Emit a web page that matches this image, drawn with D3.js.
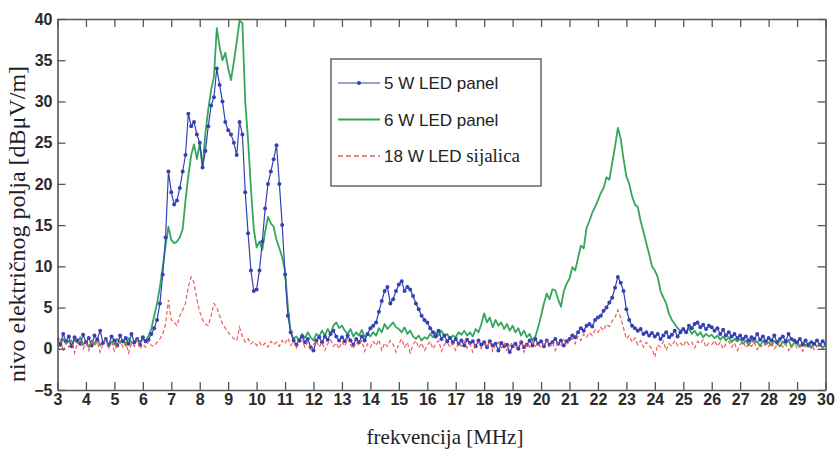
<!DOCTYPE html>
<html>
<head>
<meta charset="utf-8">
<script src="https://cdn.jsdelivr.net/npm/d3@7"></script>
<style>
body { margin: 0; background: #fff; }
svg { display: block; }
</style>
</head>
<body>
<div id="chart"></div>
<script>
// frequency grid 3..30 MHz, 0.1 MHz step
var freq = d3.range(0, 271).map(function(i) { return +(3 + i * 0.1).toFixed(1); });

var led5 = [
	1.2, 0.5, 1.8, 0.9, 1.5, 0.3, 1.4, 1.0, 0.6, 1.7,
	0.8, 1.3, 0.4, 1.6, 1.1, 2.2, 0.7, 1.2, 0.5, 1.5,
	1.0, 0.4, 1.6, 0.9, 1.3, 0.6, 1.8, 0.8, 1.2, 0.5,
	1.4, 0.9, 1.1, 1.8, 2.5, 3.5, 5.5, 9.0, 13.5, 21.5,
	19.0, 17.5, 18.0, 19.5, 21.5, 23.5, 28.5, 27.0, 27.5, 26.0,
	25.0, 22.0, 24.0, 27.0, 29.5, 30.5, 34.0, 32.0, 30.0, 27.5,
	26.5, 26.0, 25.0, 23.5, 27.5, 26.0, 19.0, 14.0, 9.5, 7.0,
	7.2, 9.5, 13.0, 17.0, 20.0, 21.5, 23.0, 24.7, 20.0, 15.0,
	9.0, 4.0, 2.0, 1.0, 0.5, 1.0, 1.5, 0.8, 1.2, 0.2,
	-0.2, 1.0, 1.4, 0.8, 1.5, 1.1, 1.8, 2.2, 1.5, 1.0,
	1.4, 0.9, 1.6, 1.0, 0.5, 1.2, 0.8, 1.5, 1.0, 1.8,
	2.5, 2.8, 3.2, 4.5, 5.8, 7.0, 7.5, 5.5, 6.0, 7.0,
	7.8, 8.2, 7.0, 7.5, 7.2, 6.4, 5.5, 4.8, 4.0, 3.5,
	3.2, 2.5, 2.0, 1.5, 2.2, 1.2, 1.6, 0.9, 1.3, 0.8,
	1.2, 0.6, 1.0, 0.4, 1.1, 0.7, 0.9, 0.3, 1.0, 0.5,
	0.8, 0.2, 0.9, 0.4, 0.6, -0.2, 0.7, 0.3, 0.5, -0.4,
	0.3, 0.6, 0.0, 0.8, 0.2, 0.5, 1.0, 0.4, 1.2, 0.6,
	0.9, 0.3, 1.0, 0.5, 0.8, 1.2, 0.6, 1.0, 0.4, 0.9,
	1.2, 1.6, 1.4, 2.0, 2.5, 2.2, 2.8, 3.0, 2.7, 3.5,
	3.8, 4.0, 4.6, 5.0, 5.6, 6.2, 7.4, 8.7, 8.0, 7.0,
	4.8, 3.5, 2.8, 2.5, 2.2, 2.4, 1.8, 2.0, 1.6, 1.9,
	1.5, 1.8, 1.2, 1.6, 2.0, 1.4, 1.7, 2.2, 1.5, 2.0,
	2.4, 2.0, 2.8, 2.5, 3.0, 3.2, 2.6, 2.9, 2.4, 2.8,
	2.6, 2.2, 2.5, 1.8, 2.3, 1.6, 2.0, 1.5, 1.8, 1.3,
	1.6, 1.2, 1.5, 1.0, 1.4, 1.2, 1.8, 1.1, 1.5, 0.9,
	1.3, 1.0, 1.6, 0.8, 1.2, 1.5, 0.9, 1.8, 1.2, 1.0,
	0.8, 1.2, 0.5, 1.0, 0.4, 0.8, 0.6, 1.0, 0.5, 0.9,
	0.6
];

var led6 = [
	0.8, 0.4, 1.2, 0.6, 1.0, 0.3, 1.1, 0.7, 1.4, 0.5,
	0.9, 0.2, 1.0, 0.6, 1.3, 0.4, 0.8, 1.1, 0.3, 0.9,
	0.5, 1.2, 0.7, 1.0, 0.4, 1.3, 0.8, 0.6, 1.1, 0.9,
	1.2, 0.9, 1.6, 2.4, 4.0, 5.5, 7.5, 9.9, 12.5, 14.8,
	13.2, 12.8, 13.0, 13.5, 14.5, 18.0, 21.0, 23.5, 24.8, 23.0,
	24.9, 22.0, 26.2, 29.0, 31.4, 33.0, 38.9, 36.6, 35.0, 35.9,
	34.0, 32.6, 34.8, 37.2, 39.8, 39.5, 30.0, 25.3, 19.5, 14.5,
	12.3, 13.0, 12.0, 14.2, 16.0, 15.2, 14.8, 13.2, 12.2, 11.1,
	9.5, 5.0, 2.0, 1.2, 1.5, 1.0, 1.8, 1.3, 2.0, 1.4,
	1.0, 1.8, 1.5, 2.2, 1.6, 2.4, 1.8, 2.8, 3.2, 2.5,
	2.8, 2.2, 1.8, 2.4, 1.5, 2.0, 1.6, 2.3, 1.4, 1.8,
	1.5, 2.0, 1.6, 2.5, 2.0, 3.0, 2.4, 2.8, 3.2, 2.6,
	2.4, 2.0, 2.6, 1.8, 2.2, 1.5, 1.2, 1.6, 1.0, 1.4,
	1.2, 1.8, 1.4, 2.0, 1.6, 2.2, 1.5, 1.8, 1.2, 1.6,
	1.4, 2.0, 1.7, 2.2, 1.6, 2.0, 1.5, 2.4, 2.0, 3.0,
	4.3, 3.2, 3.8, 2.6, 3.5, 2.8, 3.2, 2.4, 3.0, 2.2,
	2.8, 2.0, 2.5, 1.6, 2.2, 1.4, 1.8, 1.0, 1.5, 2.6,
	4.0, 5.5, 6.7, 6.0, 7.2, 7.1, 6.0, 5.1, 7.0, 7.9,
	8.5, 9.9, 9.5, 11.0, 12.5, 12.2, 14.7, 15.5, 16.5, 17.2,
	18.0, 18.9, 19.5, 20.8, 20.5, 22.5, 24.5, 26.8, 25.5, 23.0,
	20.9, 20.0, 18.5, 17.5, 17.2, 15.5, 14.2, 12.8, 11.5, 10.0,
	9.5, 8.7, 7.0, 6.2, 5.5, 4.2, 3.5, 3.0, 2.5, 2.2,
	2.3, 2.0, 2.5, 1.8, 2.2, 1.6, 2.0, 1.4, 1.8, 1.5,
	1.7, 1.3, 1.6, 1.1, 1.5, 1.0, 1.4, 0.8, 1.2, 0.9,
	1.2, 0.6, 1.0, 0.4, 1.1, 0.7, 0.9, 0.3, 1.0, 0.5,
	0.8, 0.4, 1.0, 0.6, 0.3, 0.9, 0.5, 1.1, 0.2, 0.7,
	0.6, 0.2, 0.8, 0.4, 0.7, 0.1, 0.6, 0.3, 0.5, 0.2,
	0.4
];

var led18 = [
	0.5, 1.2, -0.3, 0.8, 0.2, 1.0, -0.5, 0.6, 1.1, 0.0,
	0.7, -0.2, 1.0, 0.3, 0.9, -0.4, 0.6, 1.2, 0.1, 0.8,
	-0.3, 0.5, 1.0, 0.2, 0.8, -0.5, 0.7, 0.3, 1.1, 0.0,
	0.6, 0.2, 0.9, 0.4, 0.3, 0.8, 1.2, 1.8, 3.0, 5.9,
	3.5, 3.2, 2.8, 4.0, 4.7, 5.5, 7.5, 8.7, 8.0, 6.0,
	4.5, 3.5, 3.0, 2.8, 4.0, 5.5, 5.0, 4.0, 3.0, 2.5,
	2.0, 1.6, 1.2, 1.0, 2.6, 1.5, 0.8, 1.2, 0.6, 0.9,
	0.4, 0.8, 0.3, 0.7, 0.2, 0.9, 0.5, 0.8, 0.3, 1.0,
	0.6, 1.3, 0.4, 0.9, 0.1, 0.7, 1.0, 0.2, 0.8, -0.3,
	0.5, 1.0, 0.2, 0.8, -0.2, 0.6, 1.1, 0.3, 0.7, 0.0,
	0.9, 0.3, 1.2, 0.5, 0.0, 0.8, 0.4, 1.0, -0.3, 0.6,
	0.2, 0.9, 0.4, 1.1, -0.2, 0.7, 0.3, 1.0, 0.5, -0.4,
	0.6, 1.2, 0.2, 0.8, -0.5, 0.5, 1.0, 0.1, 0.7, -0.2,
	0.4, 0.9, 0.0, 0.6, 1.0, -0.3, 0.5, 0.8, 0.2, 0.6,
	-0.2, 0.7, 0.3, 0.9, 0.1, 0.6, -0.4, 0.5, 0.8, 0.0,
	0.6, 0.2, 0.9, -0.3, 0.5, 0.8, 0.1, 0.7, -0.2, 0.4,
	0.8, 0.0, 0.5, 1.0, -0.4, 0.6, 0.2, 0.9, 0.3, 0.7,
	0.1, 0.6, 1.0, 0.3, 0.8, -0.2, 0.7, 0.4, 1.1, 0.5,
	0.9, 1.3, 0.6, 1.5, 1.0, 1.8, 1.4, 2.0, 1.6, 2.3,
	2.0, 2.6, 2.2, 3.0, 2.7, 3.4, 3.8, 4.7, 3.8, 2.5,
	1.2, 1.6, 0.8, 1.3, 0.5, 1.0, 0.2, 0.8, 0.4, 0.0,
	-1.0, 0.5, 0.2, 0.9, -0.2, 0.6, 0.3, 1.0, 0.4, 0.7,
	0.3, 1.0, 0.5, 0.8, 0.1, 0.9, 0.6, 1.1, 0.2, 0.7,
	0.5, 1.0, 0.3, 0.8, 0.0, 0.6, 0.9, 0.2, 0.7, -0.2,
	0.5, 0.9, 0.1, 0.6, 0.3, 0.8, -0.1, 0.5, 0.2, 0.7,
	0.3, 0.8, 0.0, 0.5, 0.9, 0.2, 0.6, -0.2, 0.4, 0.7,
	0.1, 0.5, -0.3, 0.4, 0.2, 0.6, -0.1, 0.3, 0.5, 0.0,
	0.3
];

var xTicks = d3.range(3, 31);
var yTicks = [-5, 0, 5, 10, 15, 20, 25, 30, 35, 40];
var legendLabels = ["5 W LED panel", "6 W LED panel", "18 W LED "];

var width = 836, height = 450;
// plot box (note: "top" is taken by window.top, so use short names)
var pL = 57.5, pR = 825.5, pT = 19, pB = 390;

var svg = d3.select("#chart").append("svg")
	.attr("width", width)
	.attr("height", height);

var x = d3.scaleLinear().domain([3, 30]).range([pL, pR]);
var y = d3.scaleLinear().domain([-5, 40]).range([pB, pT]);

svg.append("clipPath").attr("id", "clip")
	.append("rect")
	.attr("x", pL).attr("y", pT)
	.attr("width", pR - pL).attr("height", pB - pT);

var frameColor = "#555";
var tickFont = "'Liberation Sans', Arial, sans-serif";

var plot = svg.append("g").attr("clip-path", "url(#clip)");

function series(vals) {
	return freq.map(function(f, i) { return { f: f, v: vals[i] }; });
}

var line = d3.line()
	.x(function(d) { return x(d.f); })
	.y(function(d) { return y(d.v); });

var blue = "#3540b4", green = "#34a65c", red = "#f25a5a";

plot.append("path")
	.datum(series(led6))
	.attr("d", line)
	.attr("fill", "none")
	.attr("stroke", green)
	.attr("stroke-width", 1.8)
	.attr("stroke-linejoin", "round");

plot.append("path")
	.datum(series(led5))
	.attr("d", line)
	.attr("fill", "none")
	.attr("stroke", blue)
	.attr("stroke-width", 1.2);

plot.selectAll(".dot")
	.data(series(led5))
	.enter().append("circle")
	.attr("class", "dot")
	.attr("cx", function(d) { return x(d.f); })
	.attr("cy", function(d) { return y(d.v); })
	.attr("r", 2)
	.attr("fill", blue);

plot.append("path")
	.datum(series(led18))
	.attr("d", line)
	.attr("fill", "none")
	.attr("stroke", red)
	.attr("stroke-width", 1.2)
	.attr("stroke-dasharray", "4,2.5");

// axes, MATLAB style: ticks inward on all four sides
var xBottom = svg.append("g")
	.attr("transform", "translate(0," + pB + ")")
	.call(d3.axisBottom(x).tickValues(xTicks).tickSizeInner(-8).tickSizeOuter(0).tickPadding(4).tickFormat(d3.format("d")));
var xTop = svg.append("g")
	.attr("transform", "translate(0," + pT + ")")
	.call(d3.axisTop(x).tickValues(xTicks).tickSizeInner(-8).tickSizeOuter(0).tickFormat(""));
var yLeft = svg.append("g")
	.attr("transform", "translate(" + pL + ",0)")
	.call(d3.axisLeft(y).tickValues(yTicks).tickSizeInner(-8).tickSizeOuter(0).tickPadding(5).tickFormat(d3.format("d")));
var yRight = svg.append("g")
	.attr("transform", "translate(" + pR + ",0)")
	.call(d3.axisRight(y).tickValues(yTicks).tickSizeInner(-8).tickSizeOuter(0).tickFormat(""));

[xBottom, xTop, yLeft, yRight].forEach(function(g) {
	g.select(".domain").attr("stroke", frameColor).attr("stroke-width", 1.6);
	g.selectAll(".tick line").attr("stroke", frameColor).attr("stroke-width", 1.3);
	g.selectAll(".tick text")
		.attr("fill", "#2a2a2a")
		.style("font-family", tickFont)
		.style("font-size", "16px")
		.style("font-weight", "bold");
});

// axis titles
svg.append("text")
	.attr("x", 445)
	.attr("y", 444)
	.attr("text-anchor", "middle")
	.attr("fill", "#1e1e28")
	.style("font-family", "'Liberation Serif', 'Times New Roman', serif")
	.style("font-size", "21px")
	.text("frekvencija [MHz]");

svg.append("text")
	.attr("transform", "translate(25,224) rotate(-90)")
	.attr("text-anchor", "middle")
	.attr("fill", "#1e1e28")
	.style("font-family", "'Liberation Serif', 'Times New Roman', serif")
	.style("font-size", "24px")
	.text("nivo električnog polja [dBμV/m]");

// legend
var lg = svg.append("g");
lg.append("rect")
	.attr("x", 331).attr("y", 59)
	.attr("width", 210).attr("height", 127)
	.attr("fill", "#fff")
	.attr("stroke", "#666")
	.attr("stroke-width", 1.5);

var legendRows = [
	{ label: legendLabels[0], color: blue, dash: null, dot: true, w: 1.2 },
	{ label: legendLabels[1], color: green, dash: null, dot: false, w: 2 },
	{ label: legendLabels[2], color: red, dash: "5,3", dot: false, w: 1.3 }
];

legendRows.forEach(function(r, i) {
	var ly = 83 + i * 36.5;
	lg.append("line")
		.attr("x1", 338).attr("x2", 380)
		.attr("y1", ly).attr("y2", ly)
		.attr("stroke", r.color)
		.attr("stroke-width", r.w)
		.attr("stroke-dasharray", r.dash);
	if (r.dot) {
		lg.append("circle").attr("cx", 359).attr("cy", ly).attr("r", 2).attr("fill", r.color);
	}
	var t = lg.append("text")
		.attr("x", 384).attr("y", ly + 6)
		.attr("fill", "#222")
		.style("font-family", tickFont)
		.style("font-size", "17px")
		.text(r.label);
	if (i == 2) {
		t.append("tspan")
			.style("font-family", "'Liberation Serif', 'Times New Roman', serif")
			.style("font-size", "19px")
			.text("sijalica");
	}
});
</script>
</body>
</html>
